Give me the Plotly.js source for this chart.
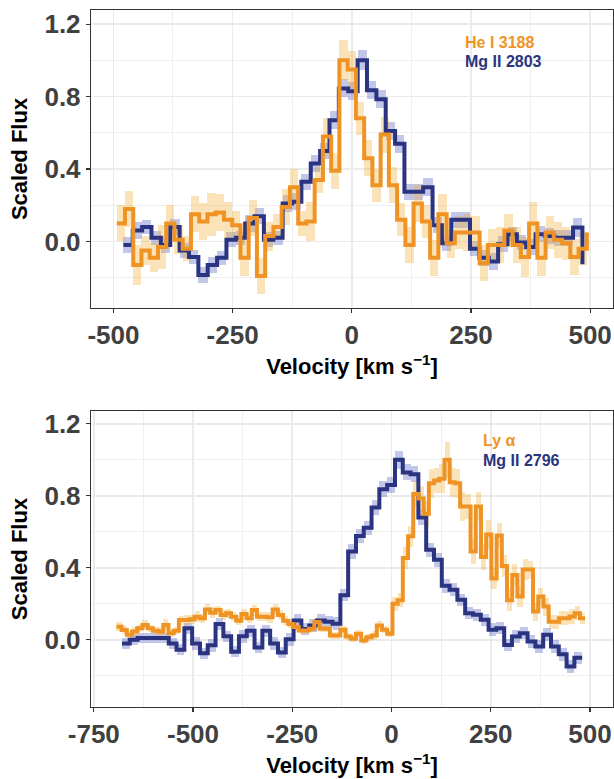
<!DOCTYPE html>
<html>
<head>
<meta charset="utf-8">
<script src="https://cdn.plot.ly/plotly-3.0.1.min.js"></script>
<style>html,body{margin:0;padding:0;background:#fff;}#chart{width:614px;height:779px;}</style>
</head>
<body>
<div id="chart"></div>
<script>
// ---------- Top panel: He I 3188 and Mg II 2803 ----------
const heX = [-493,-475.7,-458.4,-441.1,-423.8,-406.5,-389.2,-371.9,-354.6,-337.3,
  -320,-302.7,-285.4,-268.1,-250.8,-233.5,-216.2,-198.9,-181.6,-164.3,
  -147,-129.7,-112.4,-95.1,-77.8,-60.5,-43.2,-25.9,-8.6,8.7,
  26,43.3,60.6,77.9,95.2,112.5,129.8,147.1,164.4,181.7,
  199,216.3,233.6,250.9,268.2,285.5,302.8,320.1,337.4,354.7,
  372,389.3,406.6,423.9,441.2,458.5,475.8,493.1];
const heY = [0.10,0.18,-0.13,-0.05,-0.09,-0.03,0.10,0.01,-0.04,0.15,
  0.11,0.15,0.16,0.12,0.09,-0.09,0.13,-0.19,0.03,0.08,
  0.19,0.30,0.10,0.11,0.34,0.58,0.39,1.00,0.95,0.68,
  0.46,0.31,0.59,0.31,0.12,-0.02,0.21,0.11,-0.09,0.15,
  -0.01,0.05,0.05,0.05,-0.12,-0.02,-0.02,0.06,-0.02,-0.085,
  0.10,-0.09,0.05,0.01,-0.01,-0.085,-0.04,0.05];
const heErr = [0.10,0.10,0.11,0.08,0.08,0.12,0.10,0.08,0.07,0.10,
  0.10,0.12,0.10,0.10,0.08,0.10,0.10,0.10,0.08,0.07,
  0.10,0.10,0.07,0.11,0.07,0.10,0.10,0.11,0.10,0.09,
  0.10,0.09,0.10,0.10,0.09,0.10,0.10,0.09,0.10,0.11,
  0.08,0.09,0.10,0.09,0.10,0.09,0.10,0.09,0.10,0.11,
  0.12,0.10,0.09,0.10,0.09,0.10,0.09,0.09];

const mg3X = [-479,-459.4,-439.7,-420.1,-400.4,-380.8,-361.1,-341.5,-321.8,-302.2,
  -282.5,-262.9,-243.2,-223.6,-203.9,-184.3,-164.6,-145,-125.3,-105.7,
  -86,-66.4,-46.7,-27.1,-7.4,12.3,31.9,51.6,71.2,90.9,
  110.5,130.2,149.8,169.5,189.1,208.8,228.4,248.1,267.7,287.4,
  307,326.7,346.3,366,385.6,405.3,424.9,444.6,464.2,483.9];
const mg3Y = [-0.02,0.06,0.08,0.02,-0.02,0.08,-0.05,-0.085,-0.185,-0.13,
  -0.09,0.01,0.02,0.10,0.14,0.01,0.02,0.21,0.22,0.33,
  0.43,0.50,0.67,0.845,0.83,1.00,0.835,0.785,0.61,0.54,
  0.275,0.275,0.30,0.09,-0.01,0.12,0.12,-0.04,-0.09,-0.11,
  -0.015,0.04,-0.005,-0.03,0.04,0.03,0.02,0.02,0.077,-0.125];
const mg3Err = [0.045,0.045,0.04,0.04,0.045,0.045,0.04,0.04,0.045,0.045,
  0.04,0.04,0.04,0.045,0.045,0.04,0.04,0.045,0.045,0.045,
  0.045,0.045,0.05,0.05,0.05,0.055,0.05,0.05,0.05,0.05,
  0.045,0.045,0.05,0.045,0.045,0.045,0.045,0.04,0.045,0.045,
  0.045,0.04,0.04,0.045,0.045,0.045,0.045,0.045,0.05,0.05];

// ---------- Bottom panel: Ly alpha and Mg II 2796 ----------
const lyaX = [-693,-679.9,-666.8,-653.6,-640.5,-627.4,-614.3,-601.2,-588,-574.9,
  -561.8,-548.7,-535.6,-522.4,-509.3,-496.2,-483.1,-470,-456.8,-443.7,
  -430.6,-417.5,-404.4,-391.2,-378.1,-365,-351.9,-338.8,-325.6,-312.5,
  -299.4,-286.3,-273.2,-260,-246.9,-233.8,-220.7,-207.6,-194.4,-181.3,
  -168.2,-155.1,-142,-128.8,-115.7,-102.6,-89.5,-76.4,-63.2,-50.1,
  -37,-23.9,-10.8,2.4,15.5,28.6,41.7,54.8,68,81.1,
  94.2,107.3,120.4,133.6,146.7,159.8,172.9,186,199.2,212.3,
  225.4,238.5,251.6,264.8,277.9,291,304.1,317.2,330.4,343.5,
  356.6,369.7,382.8,396,409.1,422.2,435.3,448.4,461.6,474.7,
  487.8];
const lyaY = [0.073,0.055,0.028,0.046,0.064,0.083,0.064,0.051,0.046,0.083,
  0.037,0.051,0.11,0.11,0.114,0.128,0.12,0.169,0.15,0.165,
  0.138,0.147,0.128,0.106,0.143,0.12,0.165,0.128,0.128,0.125,
  0.169,0.138,0.106,0.088,0.071,0.052,0.052,0.062,0.099,0.062,
  0.062,0.024,0.024,0.056,0.019,0.006,0.034,-0.004,0.015,0.024,
  0.08,0.056,0.034,0.20,0.22,0.455,0.575,0.81,0.785,0.70,
  0.87,0.885,0.895,1.00,0.875,0.87,0.74,0.74,0.49,0.74,
  0.46,0.585,0.34,0.58,0.41,0.22,0.36,0.24,0.39,0.39,
  0.157,0.24,0.185,0.10,0.10,0.12,0.12,0.13,0.148,0.12,
  0.12];
const lyaErr = [0.025,0.02,0.02,0.025,0.02,0.025,0.02,0.02,0.025,0.03,
  0.02,0.02,0.025,0.03,0.025,0.03,0.025,0.03,0.03,0.025,
  0.03,0.025,0.025,0.025,0.03,0.025,0.03,0.025,0.025,0.03,
  0.03,0.025,0.025,0.02,0.02,0.02,0.02,0.02,0.02,0.02,
  0.02,0.02,0.02,0.02,0.02,0.02,0.02,0.02,0.02,0.025,
  0.025,0.02,0.02,0.04,0.04,0.06,0.06,0.07,0.07,0.07,
  0.08,0.07,0.08,0.10,0.08,0.08,0.08,0.07,0.07,0.08,
  0.07,0.08,0.06,0.07,0.06,0.06,0.06,0.06,0.06,0.05,
  0.05,0.05,0.05,0.04,0.04,0.04,0.04,0.04,0.04,0.03,
  0.03];

const mg6X = [-679,-659.4,-639.7,-620.1,-600.4,-580.8,-561.1,-541.5,-521.8,-502.2,
  -482.5,-462.9,-443.2,-423.6,-403.9,-384.3,-364.6,-345,-325.3,-305.7,
  -286,-266.4,-246.7,-227.1,-207.4,-187.8,-168.1,-148.5,-128.8,-109.2,
  -89.5,-69.9,-50.2,-30.6,-10.9,8.8,28.4,48.1,67.7,87.4,
  107,126.7,146.3,166,185.6,205.3,224.9,244.6,264.2,283.9,
  303.5,323.2,342.8,362.5,382.1,401.8,421.4,441.1,460.7,480.4];
const mg6Y = [-0.02,0.00,0.01,0.01,0.01,0.01,-0.02,-0.055,0.065,-0.02,
  -0.075,-0.03,0.088,0.02,-0.066,0.02,0.05,-0.043,0.05,-0.02,
  -0.07,0.003,0.107,0.06,0.08,0.107,0.10,0.09,0.248,0.49,
  0.576,0.622,0.735,0.837,0.86,1.00,0.93,0.92,0.68,0.50,
  0.445,0.30,0.278,0.222,0.148,0.139,0.111,0.056,0.065,-0.028,
  0.019,0.037,-0.009,-0.037,0.028,-0.037,-0.08,-0.148,-0.10,-0.10];
const mg6Err = [0.03,0.03,0.03,0.03,0.03,0.03,0.03,0.03,0.03,0.035,
  0.03,0.035,0.035,0.03,0.03,0.035,0.035,0.03,0.035,0.035,
  0.03,0.035,0.035,0.035,0.035,0.035,0.035,0.035,0.035,0.04,
  0.04,0.04,0.04,0.045,0.045,0.05,0.045,0.045,0.04,0.04,
  0.04,0.04,0.035,0.035,0.035,0.035,0.035,0.035,0.035,0.035,
  0.035,0.035,0.035,0.035,0.035,0.035,0.035,0.035,0.035,0.035];

// labels
const topLabels = ['He I 3188', 'Mg II 2803'];
const botLabels = ['Ly α', 'Mg II 2796'];
const topXTicks = [-500, -250, 0, 250, 500];
const topXText = ['-500', '-250', '0', '250', '500'];
const botXTicks = [-750, -500, -250, 0, 250, 500];
const botXText = ['-750', '-500', '-250', '0', '250', '500'];
const yTicks = [0, 0.4, 0.8, 1.2];
const yText = ['0.0', '0.4', '0.8', '1.2'];

// ---------- styling ----------
const ORANGE = '#EF9424';
const NAVY = '#2A3480';
const ORANGE_BAND = 'rgba(240,170,40,0.33)';
const NAVY_BAND = 'rgba(89,101,192,0.37)';
const FONT = 'Liberation Sans, Arial, Helvetica, sans-serif';

function band(x, y, e, color, xa, ya) {
  const n = x.length - 1;
  return {
    type: 'bar', x: x.slice(0, n),
    base: y.slice(0, n).map((v, i) => v - e[i]),
    y: e.slice(0, n).map(v => 2 * v),
    width: x.slice(1).map((v, i) => v - x[i]),
    offset: 0,
    marker: {color: color, line: {width: 0}},
    xaxis: xa, yaxis: ya, hoverinfo: 'skip', showlegend: false
  };
}
function step(x, y, color, xa, ya) {
  return {type: 'scatter', mode: 'lines', x: x, y: y,
    line: {shape: 'hv', color: color, width: 4},
    xaxis: xa, yaxis: ya, showlegend: false};
}

const data = [
  band(mg3X, mg3Y, mg3Err, NAVY_BAND, 'x', 'y'),
  band(heX, heY, heErr, ORANGE_BAND, 'x', 'y'),
  step(mg3X, mg3Y, NAVY, 'x', 'y'),
  step(heX, heY, ORANGE, 'x', 'y'),
  band(mg6X, mg6Y, mg6Err, NAVY_BAND, 'x2', 'y2'),
  band(lyaX, lyaY, lyaErr, ORANGE_BAND, 'x2', 'y2'),
  step(mg6X, mg6Y, NAVY, 'x2', 'y2'),
  step(lyaX, lyaY, ORANGE, 'x2', 'y2')
];

function xAxis(anchor, range, vals, text) {
  return {
    anchor: anchor, domain: [0, 1], range: range,
    tickmode: 'array', tickvals: vals, ticktext: text,
    showgrid: true, gridcolor: '#EBEBEB', gridwidth: 1.6,
    minor: {dtick: 125, tick0: 0, showgrid: true, gridcolor: '#EFEFEF', gridwidth: 1, ticks: ''},
    zeroline: false, showline: true, mirror: true, linecolor: '#333333', linewidth: 1.2,
    ticks: 'outside', ticklen: 4, tickwidth: 1.2, tickcolor: '#333333',
    tickfont: {family: FONT, size: 26, color: '#404040', weight: 'bold'},
    title: {text: 'Velocity [km s<sup>−1</sup>]', standoff: 9,
      font: {family: FONT, size: 22, color: '#000000', weight: 'bold'}}
  };
}
function yAxis(anchor, domain, range) {
  return {
    anchor: anchor, domain: domain, range: range,
    tickmode: 'array', tickvals: yTicks, ticktext: yText,
    showgrid: true, gridcolor: '#EBEBEB', gridwidth: 1.6,
    minor: {dtick: 0.2, tick0: 0, showgrid: true, gridcolor: '#EFEFEF', gridwidth: 1, ticks: ''},
    zeroline: false, showline: true, mirror: true, linecolor: '#333333', linewidth: 1.2,
    ticks: 'outside', ticklen: 4, tickwidth: 1.2, tickcolor: '#333333',
    tickfont: {family: FONT, size: 26, color: '#404040', weight: 'bold'},
    title: {text: 'Scaled Flux', standoff: 10,
      font: {family: FONT, size: 22, color: '#000000', weight: 'bold'}}
  };
}

function label(text, xref, yref, x, y, color) {
  return {text: text, xref: xref, yref: yref, x: x, y: y, xanchor: 'left', yanchor: 'middle',
    showarrow: false, font: {family: FONT, size: 16, color: color, weight: 'bold'}};
}

const layout = {
  width: 614, height: 779,
  margin: {l: 91, r: 1, t: 10, b: 72},
  paper_bgcolor: '#ffffff', plot_bgcolor: '#ffffff',
  barmode: 'overlay', bargap: 0,
  showlegend: false,
  xaxis: xAxis('y', [-547, 548], topXTicks, topXText),
  yaxis: yAxis('x', [0.5725, 1], [-0.367, 1.278]),
  xaxis2: xAxis('y2', [-757, 558], botXTicks, botXText),
  yaxis2: yAxis('x2', [0, 0.4247], [-0.373, 1.271]),
  annotations: [
    label(topLabels[0], 'x', 'y', 233, 1.10, ORANGE),
    label(topLabels[1], 'x', 'y', 233, 0.995, NAVY),
    label(botLabels[0], 'x2', 'y2', 226, 1.108, ORANGE),
    label(botLabels[1], 'x2', 'y2', 226, 0.997, NAVY)
  ]
};

Plotly.newPlot('chart', data, layout, {displayModeBar: false, staticPlot: true});
</script>
</body>
</html>
